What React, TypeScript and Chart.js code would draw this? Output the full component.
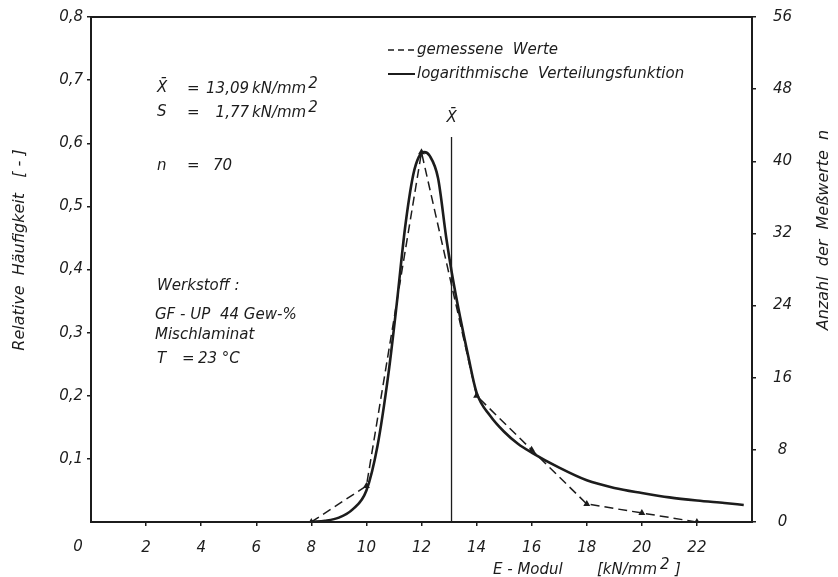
import { useEffect, useRef } from 'react';
import { Chart, registerables } from 'chart.js';

Chart.register(...registerables);

// Measured frequency polygon: class centres of E (kN/mm²) and number of specimens per class
const classModulus = [8, 10, 12, 14, 16, 18, 20, 22];
const classCounts = [0, 4, 41, 14, 8, 2, 1, 0];

// Fitted logarithmic distribution, relative frequency sampled along E
const fitModulus = [
  8.0, 8.5, 9.0, 9.5, 10.0, 10.4, 10.8, 11.1, 11.4, 11.7, 11.9, 12.1, 12.3, 12.6, 12.9,
  13.1, 13.4, 13.7, 14.0, 14.5, 15.0, 15.5, 16.0, 17.0, 18.0, 19.0, 20.0, 21.0, 22.0, 23.0, 23.7,
];
const fitFrequency = [
  0, 0.002, 0.007, 0.02, 0.05, 0.12, 0.235, 0.345, 0.465, 0.55, 0.578, 0.586, 0.58, 0.545, 0.45,
  0.395, 0.325, 0.262, 0.205, 0.168, 0.143, 0.124, 0.11, 0.086, 0.066, 0.054, 0.046, 0.039, 0.034, 0.03, 0.027,
];

// Axis ticks
const modulusTicks = [2, 4, 6, 8, 10, 12, 14, 16, 18, 20, 22];
const frequencyTicks = [0.1, 0.2, 0.3, 0.4, 0.5, 0.6, 0.7, 0.8];
const countTicks = [0, 8, 16, 24, 32, 40, 48, 56];

// Sample statistics
const meanModulus = 13.09;
const meanLabel = '13,09';
const stdLabel = '1,77';
const sampleLabel = '70';

const INK = '#1c1c1c';
const FONT = '"DejaVu Sans", sans-serif';

function txt(
  ctx: CanvasRenderingContext2D,
  s: string,
  x: number,
  y: number,
  align: CanvasTextAlign = 'left',
  size = 15,
) {
  ctx.font = `italic ${size}px ${FONT}`;
  ctx.textAlign = align;
  ctx.textBaseline = 'middle';
  ctx.fillText(s, x, y);
  return ctx.measureText(s).width;
}

const drawingPlugin = {
  id: 'sheetDrawing',
  afterDraw(chart: any) {
    const { ctx, chartArea: a, scales } = chart;
    const xs = scales.x;
    const ys = scales.y;
    ctx.save();
    ctx.fillStyle = INK;
    ctx.strokeStyle = INK;

    // plot frame
    ctx.lineWidth = 2;
    ctx.setLineDash([]);
    ctx.strokeRect(a.left, a.top, a.right - a.left, a.bottom - a.top);

    // mean value marker
    const mx = xs.getPixelForValue(meanModulus);
    ctx.lineWidth = 1.3;
    ctx.beginPath();
    ctx.moveTo(mx, a.bottom);
    ctx.lineTo(mx, ys.getPixelForValue(0.61));
    ctx.stroke();
    txt(ctx, 'X\u0304', mx, ys.getPixelForValue(0.64), 'center', 15);

    // "0" of the E axis sits left of the corner
    txt(ctx, '0', a.left - 13, 547, 'center', 15);

    // legend
    ctx.lineWidth = 1.5;
    ctx.setLineDash([6, 4]);
    ctx.beginPath();
    ctx.moveTo(388, 50);
    ctx.lineTo(416, 50);
    ctx.stroke();
    ctx.setLineDash([]);
    ctx.lineWidth = 2;
    ctx.beginPath();
    ctx.moveTo(388, 74);
    ctx.lineTo(415, 74);
    ctx.stroke();
    txt(ctx, 'gemessene  Werte', 417, 50);
    txt(ctx, 'logarithmische  Verteilungsfunktion', 417, 74);

    // statistics block
    txt(ctx, 'X\u0304', 157, 88);
    txt(ctx, '=', 187, 89);
    txt(ctx, meanLabel, 249, 89, 'right');
    let w = txt(ctx, 'kN/mm', 252, 89);
    txt(ctx, '2', 254 + w, 84);

    txt(ctx, 'S', 157, 112);
    txt(ctx, '=', 187, 113);
    txt(ctx, stdLabel, 249, 113, 'right');
    w = txt(ctx, 'kN/mm', 252, 113);
    txt(ctx, '2', 254 + w, 108);

    txt(ctx, 'n', 157, 166);
    txt(ctx, '=', 187, 166);
    txt(ctx, sampleLabel, 213, 166);

    // material block
    txt(ctx, 'Werkstoff :', 157, 286);
    txt(ctx, 'GF - UP', 155, 315);
    txt(ctx, '44 Gew-%', 220, 315);
    txt(ctx, 'Mischlaminat', 155, 335);
    txt(ctx, 'T', 157, 359);
    txt(ctx, '=', 182, 359);
    txt(ctx, '23 °C', 198, 359);

    // axis titles
    txt(ctx, 'E - Modul', 493, 570, 'left', 15);
    w = txt(ctx, '[kN/mm', 597, 570, 'left', 15);
    txt(ctx, '2', 600 + w, 565, 'left', 15);
    txt(ctx, ']', 615 + w, 570, 'left', 15);

    ctx.save();
    ctx.translate(20, 250);
    ctx.rotate(-Math.PI / 2);
    txt(ctx, 'Relative  Häufigkeit   [ - ]', 0, 0, 'center', 16);
    ctx.restore();

    ctx.save();
    ctx.translate(824, 230);
    ctx.rotate(-Math.PI / 2);
    txt(ctx, 'Anzahl  der  Meßwerte  n', 0, 0, 'center', 16);
    ctx.restore();

    ctx.restore();
  },
};

function pinScale(size: { width?: number; height?: number }) {
  return (s: any) => {
    if (size.width !== undefined) s.width = size.width;
    if (size.height !== undefined) s.height = size.height;
    s.paddingTop = 0;
    s.paddingBottom = 0;
    s.paddingLeft = 0;
    s.paddingRight = 0;
  };
}

export default function App() {
  const canvasRef = useRef<HTMLCanvasElement>(null);

  useEffect(() => {
    if (!canvasRef.current) return;
    const tickFont = { family: FONT, size: 15, style: 'italic' as const };
    const grid = {
      drawOnChartArea: false,
      drawTicks: true,
      tickLength: 4,
      color: INK,
      lineWidth: 1.5,
    };

    const chart = new Chart(canvasRef.current, {
      type: 'line',
      data: {
        datasets: [
          {
            label: 'logarithmische Verteilungsfunktion',
            data: fitModulus.map((e, i) => ({ x: e, y: fitFrequency[i] })),
            yAxisID: 'y',
            borderColor: INK,
            borderWidth: 2.6,
            pointRadius: 0,
            cubicInterpolationMode: 'monotone',
            fill: false,
          },
          {
            label: 'gemessene Werte',
            data: classModulus.map((e, i) => ({ x: e, y: classCounts[i] })),
            yAxisID: 'y2',
            borderColor: INK,
            backgroundColor: INK,
            borderWidth: 1.5,
            borderDash: [9, 5],
            pointRadius: 2.5,
            pointStyle: 'triangle',
            tension: 0,
            fill: false,
          },
        ],
      },
      options: {
        responsive: false,
        animation: false,
        layout: { padding: { top: 17, left: 0, right: 0, bottom: 0 } },
        plugins: {
          legend: { display: false },
          tooltip: { enabled: false },
        },
        scales: {
          x: {
            type: 'linear',
            min: 0,
            max: 24,
            afterBuildTicks: (s: any) => {
              s.ticks = modulusTicks.map((v) => ({ value: v }));
            },
            afterFit: pinScale({ height: 55 }),
            ticks: {
              font: tickFont,
              color: INK,
              padding: 13,
              maxRotation: 0,
              autoSkip: false,
              callback: (v: any) => String(v),
            },
            grid,
            border: { display: false },
          },
          y: {
            type: 'linear',
            position: 'left',
            min: 0,
            max: 0.8,
            afterBuildTicks: (s: any) => {
              s.ticks = frequencyTicks.map((v) => ({ value: v }));
            },
            afterFit: pinScale({ width: 91 }),
            ticks: {
              font: tickFont,
              color: INK,
              padding: 4,
              callback: (v: any) => Number(v).toFixed(1).replace('.', ','),
            },
            grid,
            border: { display: false },
          },
          y2: {
            type: 'linear',
            position: 'right',
            min: 0,
            max: 56,
            afterBuildTicks: (s: any) => {
              s.ticks = countTicks.map((v) => ({ value: v }));
            },
            afterFit: pinScale({ width: 86 }),
            ticks: {
              font: tickFont,
              color: INK,
              padding: 17,
              crossAlign: 'center',
              callback: (v: any) => String(v),
            },
            grid,
            border: { display: false },
          },
        },
      },
      plugins: [drawingPlugin],
    } as any);

    return () => chart.destroy();
  }, []);

  return (
    <div style={{ position: 'absolute', left: 0, top: 0, width: 838, height: 577 }}>
      <canvas
        ref={canvasRef}
        width={838}
        height={577}
        style={{ display: 'block', background: '#fff' }}
      />
    </div>
  );
}
